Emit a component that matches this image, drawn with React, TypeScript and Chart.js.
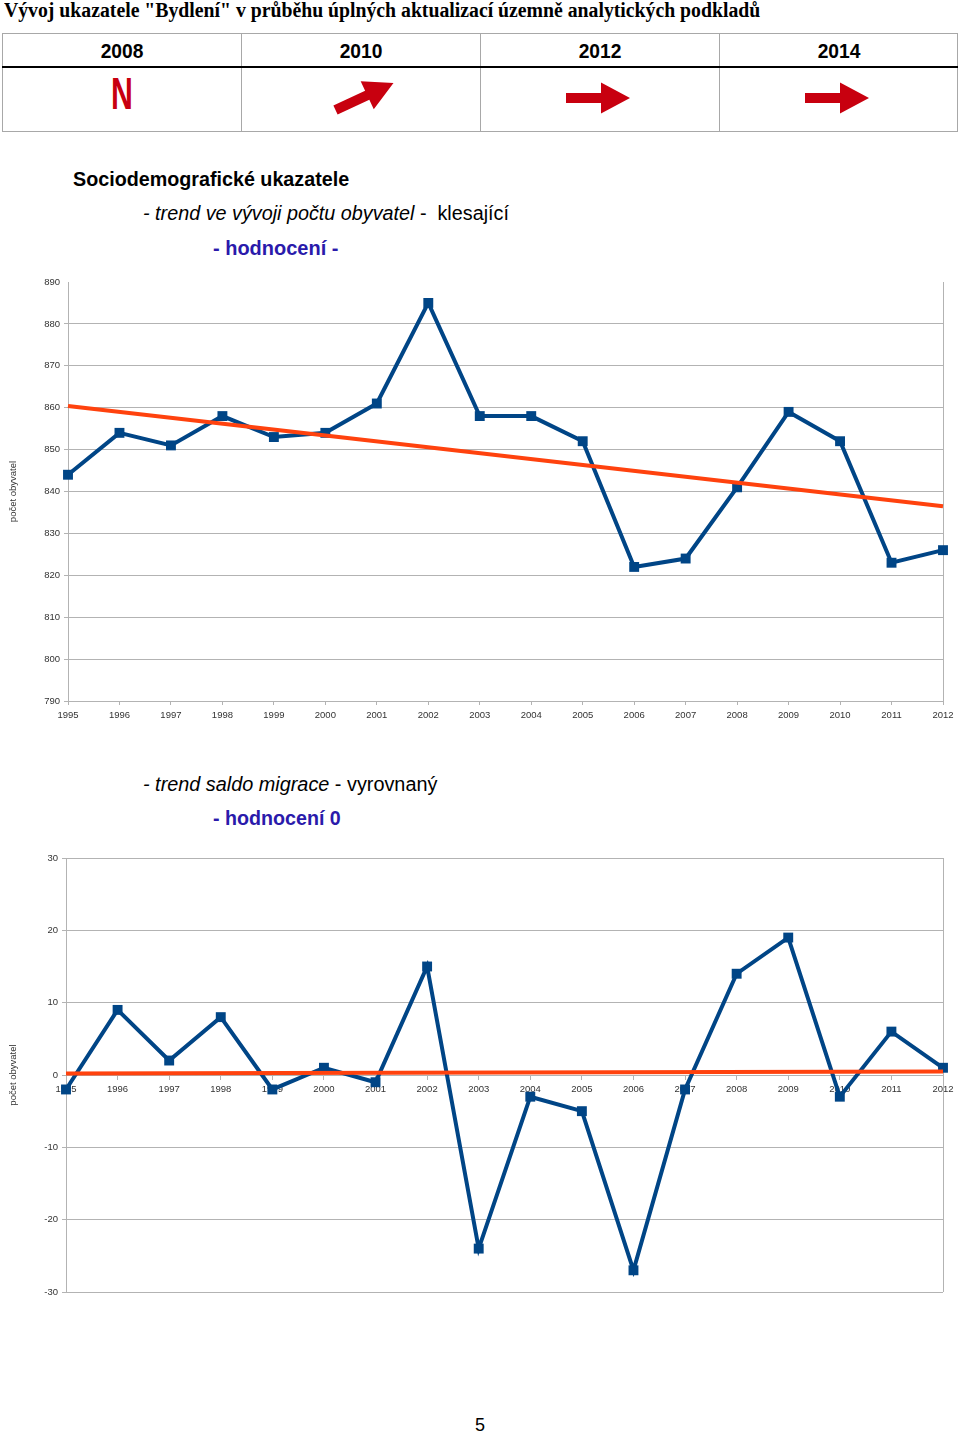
import React, { useEffect, useLayoutEffect, useRef } from "react";
import { Chart, registerables } from "chart.js";

Chart.register(...registerables);

// ---------- data ----------
const years = ["1995", "1996", "1997", "1998", "1999", "2000", "2001", "2002", "2003", "2004", "2005", "2006", "2007", "2008", "2009", "2010", "2011", "2012"];
const populationCounts = [844, 854, 851, 858, 853, 854, 861, 885, 858, 858, 852, 822, 824, 841, 859, 852, 823, 826];
const populationTrend = [860.4, null, null, null, null, null, null, null, null, null, null, null, null, null, null, null, null, 836.5];
const populationRange = [790, 890];
const migrationBalance = [-2, 9, 2, 8, -2, 1, -1, 15, -24, -3, -5, -27, -2, 14, 19, -3, 6, 1];
const migrationTrend = [0.2, null, null, null, null, null, null, null, null, null, null, null, null, null, null, null, null, 0.5];
const migrationRange = [-30, 30];
const axisStep = 10;
const headerYears = ["2008", "2010", "2012", "2014"];
const yAxisTitle = "počet obyvatel";

// ---------- styles ----------
const BLUE = "#004586";
const ORANGE = "#ff420e";
const GRID = "#b3b3b3";
const TICK = "#333333";
const RED = "#c8000f";
const VIOLET = "#2a1aab";
const SANS = "'Liberation Sans', Arial, sans-serif";
const SERIF = "'Liberation Serif', 'Times New Roman', serif";

const framePlugin = {
  id: "frameRight",
  beforeDatasetsDraw(chart: any) {
    const { ctx, chartArea } = chart;
    ctx.save();
    ctx.strokeStyle = GRID;
    ctx.lineWidth = 1;
    const x = Math.round(chartArea.right) + 0.5;
    ctx.beginPath();
    ctx.moveTo(x, chartArea.top);
    ctx.lineTo(x, chartArea.bottom);
    ctx.stroke();
    ctx.restore();
  },
};

function buildConfig(
  values: number[],
  trend: (number | null)[],
  range: number[],
  opts: { yWidth: number; padTop: number; padBottom: number; xAtZero: boolean; hideTopGrid: boolean; xHeight: number }
): any {
  const tickFont = { family: SANS, size: 9.5 };
  return {
    type: "line",
    data: {
      labels: years,
      datasets: [
        {
          data: trend,
          borderColor: ORANGE,
          backgroundColor: ORANGE,
          borderWidth: 4,
          pointRadius: 0,
          spanGaps: true,
          order: 0,
        },
        {
          data: values,
          borderColor: BLUE,
          backgroundColor: BLUE,
          borderWidth: 4,
          pointStyle: "rect",
          pointRadius: 7,
          pointBorderWidth: 0,
          tension: 0,
          order: 1,
        },
      ],
    },
    options: {
      animation: false,
      responsive: false,
      devicePixelRatio: 1,
      layout: { padding: { top: opts.padTop, right: 17, left: 0, bottom: opts.padBottom } },
      plugins: { legend: { display: false }, tooltip: { enabled: false }, title: { display: false } },
      scales: {
        x: {
          type: "category",
          offset: false,
          position: opts.xAtZero ? { y: 0 } : "bottom",
          grid: { display: true, drawOnChartArea: false, drawTicks: true, tickLength: 4, color: GRID },
          border: { display: true, color: GRID },
          ticks: { font: tickFont, color: TICK, padding: 5, maxRotation: 0, autoSkip: false },
          afterFit: (s: any) => {
            s.height = opts.xHeight;
          },
        },
        y: {
          min: range[0],
          max: range[1],
          ticks: { stepSize: axisStep, font: tickFont, color: TICK, padding: 4 },
          grid: {
            tickLength: 4,
            color: (c: any) => (opts.hideTopGrid && c.tick && c.tick.value === range[1] ? "rgba(0,0,0,0)" : GRID),
          },
          border: { display: true, color: GRID },
          title: { display: true, text: yAxisTitle, font: tickFont, color: TICK, padding: { top: 8, bottom: 0 } },
          afterFit: (s: any) => {
            s.width = opts.yWidth;
          },
        },
      },
    },
    plugins: [framePlugin],
  };
}

function LineChart({ top, height, config }: { top: number; height: number; config: any }) {
  const ref = useRef<HTMLCanvasElement>(null);
  useEffect(() => {
    if (!ref.current) return;
    const chart = new Chart(ref.current, config);
    return () => chart.destroy();
  }, []);
  return (
    <canvas
      ref={ref}
      width={960}
      height={height}
      style={{ position: "absolute", left: 0, top, width: 960, height }}
    />
  );
}

function FitText({
  left,
  top,
  width,
  size,
  center,
  style,
  children,
}: {
  left: number;
  top: number;
  width?: number;
  size: number;
  center?: boolean;
  style?: React.CSSProperties;
  children: React.ReactNode;
}) {
  const ref = useRef<HTMLSpanElement>(null);
  useLayoutEffect(() => {
    const el = ref.current;
    if (!el || !width) return;
    const w = el.offsetWidth;
    const s = w > 0 ? width / w : 1;
    el.style.transform = center ? `translateX(-50%) scaleX(${s})` : `scaleX(${s})`;
  }, []);
  return (
    <span
      ref={ref}
      style={{
        position: "absolute",
        left,
        top,
        fontSize: size,
        lineHeight: 1,
        whiteSpace: "pre",
        display: "inline-block",
        transformOrigin: center ? "center top" : "left top",
        transform: center ? "translateX(-50%)" : undefined,
        fontFamily: SANS,
        color: "#000",
        ...style,
      }}
    >
      {children}
    </span>
  );
}

const ARROW = "0,10.5 35,10.5 35,0 64,15.5 35,31 35,20.5 0,20.5";

export default function App() {
  const colCenters = [121.5, 360.5, 599.5, 838.5];
  const chart1 = buildConfig(populationCounts, populationTrend, populationRange, {
    yWidth: 68,
    padTop: 12,
    padBottom: 0,
    xAtZero: false,
    hideTopGrid: true,
    xHeight: 29,
  });
  const chart2 = buildConfig(migrationBalance, migrationTrend, migrationRange, {
    yWidth: 66,
    padTop: 13,
    padBottom: 18,
    xAtZero: true,
    hideTopGrid: false,
    xHeight: 29,
  });
  return (
    <div style={{ position: "absolute", left: 0, top: 0, width: 960, height: 1432, background: "#fff", overflow: "hidden" }}>
      <FitText left={4} top={0} width={756} size={20} style={{ fontFamily: SERIF, fontWeight: "bold" }}>
        Vývoj ukazatele "Bydlení" v průběhu úplných aktualizací územně analytických podkladů
      </FitText>

      {/* table */}
      <div style={{ position: "absolute", left: 2, top: 33, width: 956, height: 99, border: "1px solid #a8a8a8", boxSizing: "border-box" }} />
      {[241, 480, 719].map((x) => (
        <div key={x} style={{ position: "absolute", left: x, top: 33, width: 1, height: 99, background: "#a8a8a8" }} />
      ))}
      <div style={{ position: "absolute", left: 2, top: 66, width: 956, height: 2, background: "#000" }} />
      {headerYears.map((y, i) => (
        <FitText key={y} left={colCenters[i]} top={40} width={43} size={21} center style={{ fontWeight: "bold" }}>
          {y}
        </FitText>
      ))}
      <FitText left={122} top={72} width={22} size={44} center style={{ fontWeight: "bold", color: RED }}>
        N
      </FitText>
      <svg width={960} height={140} style={{ position: "absolute", left: 0, top: 0 }}>
        <polygon points={ARROW} fill={RED} transform="translate(332.5,81) rotate(-25 32 15.5)" />
        <polygon points={ARROW} fill={RED} transform="translate(566,82.5)" />
        <polygon points={ARROW} fill={RED} transform="translate(805,82.5)" />
      </svg>

      {/* texts */}
      <FitText left={73} top={169.5} width={276} size={19.5} style={{ fontWeight: "bold" }}>
        Sociodemografické ukazatele
      </FitText>
      <FitText left={143} top={203.5} width={366} size={19.5}>
        <i>- trend ve vývoji počtu obyvatel</i>
        {" -  klesající"}
      </FitText>
      <FitText left={213} top={238.5} width={125} size={19.5} style={{ fontWeight: "bold", color: VIOLET }}>
        - hodnocení -
      </FitText>

      <LineChart top={270} height={460} config={chart1} />

      <FitText left={143} top={774.5} width={294} size={19.5}>
        <i>- trend saldo migrace</i>
        {" - vyrovnaný"}
      </FitText>
      <FitText left={213} top={808.5} width={128} size={19.5} style={{ fontWeight: "bold", color: VIOLET }}>
        - hodnocení 0
      </FitText>

      <LineChart top={845} height={465} config={chart2} />

      <FitText left={480} top={1416} size={18} center>
        5
      </FitText>
    </div>
  );
}
